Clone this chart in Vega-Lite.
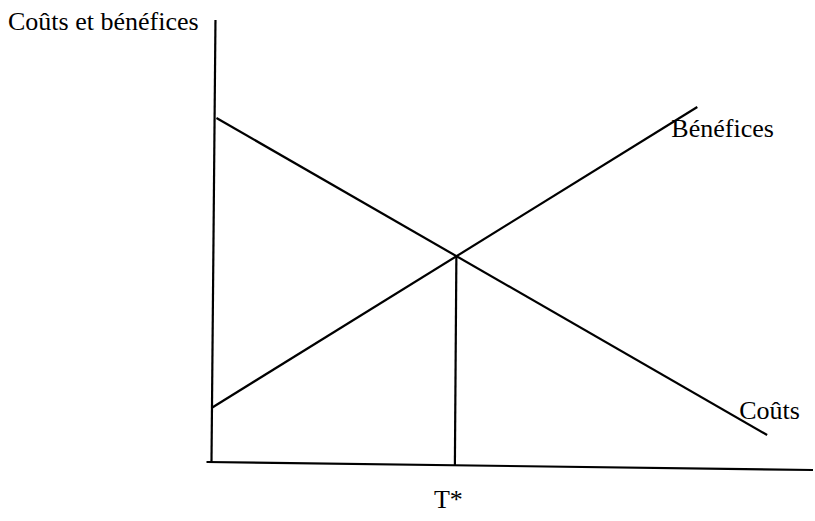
{
  "$schema": "https://vega.github.io/schema/vega-lite/v6.json",
  "autosize": {"type": "fit", "contains": "padding"},
  "width": 815,
  "height": 521,
  "padding": 0,
  "background": "white",
  "config": {"view": {"stroke": null}},
  "datasets": {
    "segments": [
      {"name": "axe vertical", "x": 0.6, "y": 88.6, "x2": -0.2, "y2": 0},
      {"name": "axe horizontal", "x": -1.2, "y": 0.2, "x2": 120.4, "y2": -1.4},
      {"name": "Coûts", "x": 0.8, "y": 69, "x2": 111.2, "y2": 5.6},
      {"name": "Bénéfices", "x": -0.2, "y": 11, "x2": 97.2, "y2": 71.2},
      {"name": "T*", "x": 48.9, "y": 41.4, "x2": 48.6, "y2": -0.4}
    ],
    "labels": [
      {"label": "Coûts et bénéfices", "x": -41, "y": 86.6},
      {"label": "Bénéfices", "x": 92, "y": 65.2},
      {"label": "Coûts", "x": 105.6, "y": 8.8},
      {"label": "T*", "x": 44.4, "y": -9}
    ]
  },
  "layer": [
    {
      "data": {"name": "segments"},
      "mark": {"type": "rule", "color": "black", "strokeWidth": 2.2},
      "encoding": {
        "x": {"field": "x", "type": "quantitative", "scale": {"domain": [-42.6, 120.4], "nice": false, "zero": false}, "axis": null},
        "y": {"field": "y", "type": "quantitative", "scale": {"domain": [-11.6, 92.6], "nice": false, "zero": false}, "axis": null},
        "x2": {"field": "x2"},
        "y2": {"field": "y2"}
      }
    },
    {
      "data": {"name": "labels"},
      "mark": {"type": "text", "align": "left", "baseline": "alphabetic", "font": "Liberation Serif", "fontSize": 26, "color": "black"},
      "encoding": {
        "x": {"field": "x", "type": "quantitative"},
        "y": {"field": "y", "type": "quantitative"},
        "text": {"field": "label"}
      }
    }
  ]
}
